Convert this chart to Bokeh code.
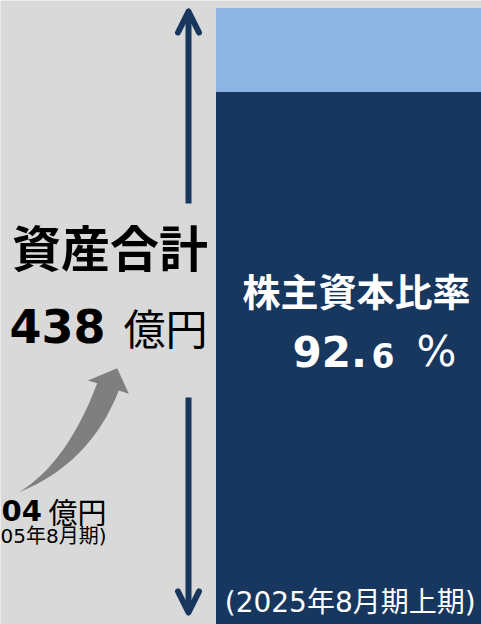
from bokeh.plotting import figure
from bokeh.models import Range1d, Arrow, OpenHead, ColumnDataSource
from bokeh.core.properties import value
from bokeh.embed import file_html
from bokeh.resources import INLINE

# ---------------- data ----------------
total_title = "資産合計"
total_assets = 438            # 億円
total_unit = "億円"
equity_title = "株主資本比率"
equity_ratio = 92.6           # %
period_label = "(2025年8月期上期)"
prev_assets_label = "04"      # visible part of the earlier total
prev_unit = "億円"
prev_period_label = "05年8月期)"
bar_layers = ["equity", "liabilities"]
bar_values = [379, 59]        # 億円, as drawn in the bar (equity / liabilities)

# ---------------- style ----------------
BG = "#d9d9d9"
NAVY = "#17375e"
LIGHT = "#8eb4e3"
GREY = "#7f7f7f"
W, H = 481, 624
CJK = "Noto Sans CJK JP"
MIX = "DejaVu Sans, Noto Sans CJK JP"

p = figure(width=W, height=H, x_range=Range1d(0, W), y_range=Range1d(0, H),
           output_backend="svg", toolbar_location=None, min_border=0,
           x_axis_type=None, y_axis_type=None,
           background_fill_color=BG, border_fill_color=BG, outline_line_color=None)
p.grid.visible = False
# value axis of the bar: total assets reach 8px below the top edge
p.extra_y_ranges = {"amt": Range1d(0, total_assets * H / (H - 8))}

# stacked bar (equity + liabilities)
src = ColumnDataSource({"x": [366], bar_layers[0]: [bar_values[0]], bar_layers[1]: [bar_values[1]]})
p.vbar_stack(bar_layers, x="x", width=300, color=[NAVY, LIGHT], source=src, y_range_name="amt")

# double arrow for total assets (gap left for the label)
for ys, ye in [(421, 613), (227, 12)]:
    p.add_layout(Arrow(end=OpenHead(size=21, line_color=NAVY, line_width=6,
                                    line_cap="round", line_join="round"),
                       x_start=188, y_start=ys, x_end=188, y_end=ye,
                       line_color=NAVY, line_width=6))

# curved grey growth arrow (shape in reference pixels, y from top)
def qbez(p0, c, p2, n=16):
    out = []
    for i in range(n + 1):
        t = i / n
        out.append(((1 - t) ** 2 * p0[0] + 2 * (1 - t) * t * c[0] + t ** 2 * p2[0],
                    (1 - t) ** 2 * p0[1] + 2 * (1 - t) * t * c[1] + t ** 2 * p2[1]))
    return out

tail = (18.3, 491.7)
inner = qbez(tail, (89.7, 463.2), (118.3, 390))
head = [(128.3, 393.3), (116.7, 367.7), (87.3, 380)]
outer = qbez((96.7, 382.7), (66.5, 462.8), tail)
shape = inner + head + outer
p.patch([x for x, _ in shape], [H - y for _, y in shape], fill_color=GREY, line_color=None)

def txt(x, y, s, size, color="black", bold=False, font=CJK, align="left", baseline="alphabetic"):
    p.text(x=[x], y=[y], text=[s], text_font=value(font), text_font_size=f"{size}px",
           text_font_style="bold" if bold else "normal", text_color=color,
           text_align=align, text_baseline=baseline)

# left labels
txt(109.5, 379, total_title, 49, bold=True, align="center", baseline="middle")
txt(9, 299, f"{total_assets}", 46, bold=True, font="DejaVu Sans")
txt(123, 298, total_unit, 42)
txt(1, 114, prev_assets_label, 29, bold=True, font="DejaVu Sans")
txt(48, 114, prev_unit, 29)
txt(0, 88.5, prev_period_label, 20, font=MIX)

# bar labels
ip = f"{int(equity_ratio)}."
dp = f"{round(equity_ratio * 10) % 10}"
txt(356, 335, equity_title, 38, color="white", bold=True, align="center", baseline="middle")
txt(292, 272.7, ip, 42, color="white", bold=True, font="DejaVu Sans")
txt(371, 269.5, dp, 33, color="white", bold=True, font="DejaVu Sans")
txt(416, 272.7, "%", 42, color="white", font="DejaVu Sans")
txt(349.7, 22.3, period_label, 28, color="white", font=MIX, align="center")

open("out.html", "w").write(file_html(p, INLINE))
